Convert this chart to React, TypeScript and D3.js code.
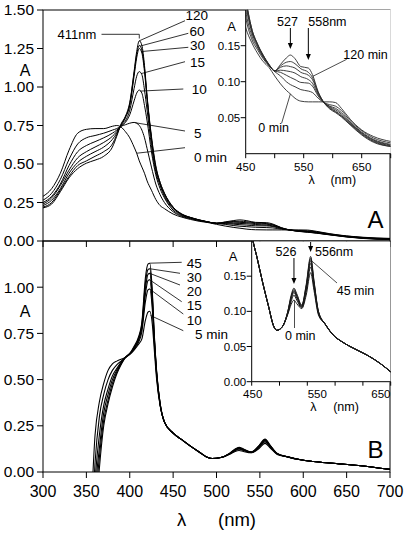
import React from "react";
import * as d3 from "d3";

// ---------------- data ----------------
const TOP_WL = [300,310,320,330,340,350,360,370,380,385,390,395,400,405,408,411,414,417,420,425,430,435,440,450,460,470,480,490,500,510,520,527,535,545,558,565,575,585,595,605,615,630,650,670,700];
const TOP_0MIN = [0.29,0.34,0.44,0.59,0.70,0.725,0.73,0.73,0.745,0.75, 0.74,0.71,0.67,0.61,0.57,0.52,0.48,0.44,0.39,0.33,0.27,0.23,0.21, 0.175,0.155,0.14,0.128,0.12,0.108,0.097,0.088,0.083,0.077,0.073,0.072,0.072,0.072,0.072,0.072,0.071,0.063,0.048,0.033,0.024,0.017];
const TOP_5MIN = [0.265,0.31,0.40,0.53,0.63,0.67,0.685,0.70,0.72,0.73, 0.745,0.755,0.765,0.77,0.765,0.75,0.72,0.67,0.60,0.48,0.37,0.30,0.25, 0.19,0.16,0.145,0.132,0.122,0.114,0.108,0.100,0.096,0.093,0.089,0.087,0.085,0.077,0.071,0.068,0.066,0.060,0.046,0.032,0.022,0.015];
const TOP_10MIN = [0.25,0.29,0.37,0.49,0.58,0.62,0.645,0.67,0.70,0.72, 0.745,0.77,0.82,0.91,0.96,0.98,0.96,0.88,0.78,0.58,0.43,0.34,0.28, 0.20,0.165,0.148,0.134,0.123,0.115,0.113,0.109,0.106,0.103,0.099,0.098,0.094,0.080,0.071,0.066,0.063,0.057,0.044,0.030,0.020,0.013];
const TOP_15MIN = [0.24,0.28,0.36,0.46,0.54,0.58,0.61,0.64,0.68,0.71, 0.75,0.78,0.85,0.99,1.07,1.10,1.08,0.98,0.85,0.62,0.45,0.36,0.29, 0.21,0.17,0.15,0.135,0.123,0.115,0.116,0.115,0.114,0.112,0.107,0.103,0.098,0.082,0.071,0.065,0.061,0.055,0.043,0.029,0.019,0.012];
const TOP_30MIN = [0.23,0.265,0.34,0.44,0.51,0.55,0.58,0.61,0.66,0.70, 0.75,0.80,0.88,1.07,1.19,1.25,1.22,1.10,0.92,0.66,0.47,0.37,0.30, 0.215,0.172,0.152,0.136,0.124,0.115,0.120,0.122,0.121,0.119,0.113,0.109,0.103,0.084,0.071,0.064,0.059,0.053,0.042,0.028,0.018,0.011];
const TOP_60MIN = [0.22,0.25,0.33,0.42,0.49,0.52,0.55,0.58,0.63,0.69, 0.755,0.805,0.89,1.09,1.21,1.27,1.24,1.12,0.93,0.67,0.48,0.38,0.31, 0.22,0.175,0.153,0.137,0.124,0.115,0.122,0.127,0.128,0.125,0.118,0.113,0.106,0.085,0.071,0.063,0.058,0.052,0.041,0.027,0.017,0.010];
const TOP_120MIN = [0.215,0.24,0.32,0.41,0.47,0.505,0.525,0.55,0.61,0.68, 0.76,0.81,0.90,1.10,1.23,1.30,1.27,1.14,0.94,0.68,0.49,0.38,0.31, 0.22,0.175,0.153,0.137,0.124,0.115,0.124,0.133,0.137,0.132,0.121,0.119,0.110,0.086,0.071,0.062,0.057,0.051,0.040,0.026,0.016,0.010];
const TOP_SERIES = [TOP_0MIN, TOP_5MIN, TOP_10MIN, TOP_15MIN, TOP_30MIN, TOP_60MIN, TOP_120MIN];

const BOT_WL = [350,355,360,365,370,375,380,385,390,395,400,405,410,414,418,421,423,426,428,431,435,440,450,460,470,480,490,495,505,515,521,526,531,540,548,556,562,570,582,597,612,627,642,657,681,700];
const BOT_5MIN = [-0.6,-0.25,0.20,0.38,0.48,0.55,0.585,0.60,0.61,0.62, 0.635,0.66,0.69,0.72,0.82,0.865,0.87,0.80,0.68,0.50,0.36,0.27, 0.21,0.175,0.14,0.108,0.078,0.073,0.078,0.096,0.110,0.116,0.111,0.104,0.123,0.155,0.130,0.095,0.082,0.066,0.057,0.050,0.044,0.038,0.026,0.014];
const BOT_10MIN = [-0.8,-0.45,0.05,0.30,0.42,0.50,0.55,0.58,0.60,0.62, 0.64,0.665,0.70,0.76,0.92,0.985,0.99,0.88,0.72,0.52,0.36,0.27, 0.21,0.175,0.14,0.108,0.078,0.073,0.078,0.097,0.114,0.123,0.116,0.105,0.128,0.163,0.135,0.097,0.082,0.066,0.057,0.050,0.044,0.038,0.026,0.014];
const BOT_15MIN = [-0.9,-0.55,-0.05,0.20,0.36,0.45,0.52,0.56,0.595,0.62, 0.64,0.67,0.71,0.78,0.96,1.035,1.04,0.91,0.74,0.53,0.365,0.27, 0.21,0.175,0.14,0.108,0.078,0.073,0.078,0.098,0.117,0.127,0.119,0.106,0.131,0.168,0.138,0.098,0.082,0.066,0.057,0.050,0.044,0.038,0.026,0.014];
const BOT_20MIN = [-1.0,-0.6,-0.12,0.13,0.32,0.42,0.50,0.55,0.59,0.62, 0.64,0.67,0.72,0.79,0.99,1.07,1.075,0.94,0.75,0.535,0.37,0.27, 0.21,0.175,0.14,0.108,0.078,0.073,0.078,0.099,0.119,0.129,0.121,0.107,0.134,0.172,0.140,0.099,0.082,0.066,0.057,0.050,0.044,0.038,0.026,0.014];
const BOT_30MIN = [-1.1,-0.7,-0.2,0.08,0.28,0.39,0.48,0.54,0.585,0.62, 0.64,0.675,0.72,0.80,1.02,1.095,1.10,0.96,0.76,0.54,0.37,0.27, 0.21,0.175,0.14,0.108,0.078,0.073,0.078,0.100,0.121,0.131,0.123,0.108,0.136,0.175,0.142,0.100,0.082,0.066,0.057,0.050,0.044,0.038,0.026,0.014];
const BOT_45MIN = [-1.2,-0.8,-0.3,0.02,0.25,0.37,0.46,0.53,0.58,0.62, 0.64,0.68,0.73,0.81,1.05,1.125,1.13,0.98,0.77,0.545,0.37,0.27, 0.21,0.175,0.14,0.108,0.078,0.073,0.078,0.100,0.123,0.133,0.125,0.109,0.138,0.178,0.144,0.100,0.082,0.066,0.057,0.050,0.044,0.038,0.026,0.014];
const BOT_SERIES = [BOT_5MIN, BOT_10MIN, BOT_15MIN, BOT_20MIN, BOT_30MIN, BOT_45MIN];

const X_TICKS = [300, 350, 400, 450, 500, 550, 600, 650, 700];
const TOP_Y_TICKS = [0, 0.25, 0.5, 0.75, 1.0, 1.25, 1.5];
const BOT_Y_TICKS = [0, 0.25, 0.5, 0.75, 1.0];
const INSET_X_TICKS = [450, 500, 550, 600, 650, 700];
const INSET_X_LABELS = [450, 550, 650];
const INSET_A_Y_TICKS = [0.05, 0.10, 0.15];
const INSET_B_Y_TICKS = [0, 0.05, 0.10, 0.15];

// annotations: [label, series index, anchor wavelength, line end x, line end y, text x, text y]
const TOP_NOTES: [string, number, number, number, number, number, number][] = [
  ["120", 6, 411, 185, 20.7, 185.5, 15.7],
  ["60", 5, 411.5, 188.3, 33.3, 189.5, 31],
  ["30", 4, 413, 188.3, 47.3, 190, 45.7],
  ["15", 3, 413, 185, 61.7, 190, 62],
  ["10", 2, 412, 183.3, 89, 191.7, 89.7],
  ["5", 1, 406, 185, 131, 194, 133],
  ["0 min", 0, 408, 185, 147.7, 194, 157.3],
];
const BOT_NOTES: [string, number, number, number, number, number, number][] = [
  ["45", 5, 423, 181.7, 262.3, 186.7, 263.3],
  ["30", 4, 423, 180, 273.3, 186.7, 277.7],
  ["20", 3, 423, 180, 285, 186.7, 291.7],
  ["15", 2, 423, 181.7, 301.7, 186.7, 305.7],
  ["10", 1, 423, 183.3, 314, 186.7, 320],
  ["5 min", 0, 424, 183.3, 330.7, 195, 334],
];

// ---------------- layout ----------------
const W = 408, H = 536;
const PX0 = 43, PX1 = 390;
const TOP_Y0 = 10, MID_Y = 241, BOT_Y1 = 472;
const FONT = "'Liberation Sans', Arial, Helvetica, sans-serif";

const x = d3.scaleLinear().domain([300, 700]).range([PX0, PX1]);
const yTop = d3.scaleLinear().domain([0, 1.5]).range([MID_Y, TOP_Y0]);
const yBot = d3.scaleLinear().domain([0, 1.25]).range([BOT_Y1, MID_Y]);

const IA = { x0: 245.7, x1: 390.7, y0: 9.7, y1: 153.7 };
const IB = { x0: 251.7, x1: 390.7, y0: 241, y1: 381.7 };
const xIA = d3.scaleLinear().domain([450, 700]).range([IA.x0, IA.x1]);
const yIA = d3.scaleLinear().domain([0, 0.2]).range([IA.y1, IA.y0]);
const xIB = d3.scaleLinear().domain([450, 700]).range([IB.x0, IB.x1]);
const yIB = d3.scaleLinear().domain([0, 0.2]).range([IB.y1, IB.y0]);
const IB_LABEL_SHIFT = [1, 10, 18];

function interp(wl: number[], vals: number[], w: number) {
  const i = Math.max(1, Math.min(wl.length - 1, d3.bisectLeft(wl, w)));
  const t = (w - wl[i - 1]) / (wl[i] - wl[i - 1]);
  return vals[i - 1] + t * (vals[i] - vals[i - 1]);
}

function pathFor(wl: number[], vals: number[], sx: any, sy: any) {
  const pts: [number, number][] = wl.map((w, i) => [w, vals[i]]);
  return d3.line<[number, number]>().x((d) => sx(d[0])).y((d) => sy(d[1])).curve(d3.curveMonotoneX)(pts) || "";
}

const T = ({ x, y, s, a = "start", children }: any) => (
  <text x={x} y={y} fontSize={s} textAnchor={a} dy="0.35em" fontFamily={FONT} fill="#000">
    {children}
  </text>
);

const Arrow = ({ x, y1, y2 }: any) => (
  <g>
    <line x1={x} x2={x} y1={y1} y2={y2 - 5} stroke="#000" strokeWidth={1} />
    <path d={`M${x - 2.5},${y2 - 6} L${x + 2.5},${y2 - 6} L${x},${y2} Z`} fill="#000" />
  </g>
);

export default function App() {
  const fmt2 = d3.format(".2f");
  return (
    <svg width={W} height={H} style={{ position: "absolute", left: 0, top: 0, background: "#fff" }}>
      <defs>
        <clipPath id="cTop"><rect x={PX0} y={TOP_Y0} width={PX1 - PX0} height={MID_Y - TOP_Y0} /></clipPath>
        <clipPath id="cBot"><rect x={PX0} y={MID_Y} width={PX1 - PX0} height={BOT_Y1 - MID_Y} /></clipPath>
        <clipPath id="cIA"><rect x={IA.x0} y={IA.y0} width={IA.x1 - IA.x0} height={IA.y1 - IA.y0} /></clipPath>
        <clipPath id="cIB"><rect x={IB.x0} y={IB.y0} width={IB.x1 - IB.x0} height={IB.y1 - IB.y0} /></clipPath>
      </defs>
      <rect x={0} y={0} width={W} height={H} fill="#fff" />

      {/* main curves */}
      <g clipPath="url(#cTop)" fill="none" stroke="#000" strokeWidth={1}>
        {TOP_SERIES.map((s, i) => <path key={i} d={pathFor(TOP_WL, s, x, yTop)} />)}
      </g>
      <g clipPath="url(#cBot)" fill="none" stroke="#000" strokeWidth={1.1}>
        {BOT_SERIES.map((s, i) => <path key={i} d={pathFor(BOT_WL, s, x, yBot)} />)}
      </g>

      {/* frames */}
      <rect x={PX0} y={TOP_Y0} width={PX1 - PX0} height={MID_Y - TOP_Y0} fill="none" stroke="#000" strokeWidth={1} />
      <rect x={PX0} y={MID_Y} width={PX1 - PX0} height={BOT_Y1 - MID_Y} fill="none" stroke="#000" strokeWidth={1} />

      {/* main ticks */}
      {X_TICKS.map((v) => (
        <g key={"xt" + v}>
          <line x1={x(v)} x2={x(v)} y1={MID_Y} y2={MID_Y + 6} stroke="#000" />
          <line x1={x(v)} x2={x(v)} y1={BOT_Y1} y2={BOT_Y1 + 6} stroke="#000" />
          <T x={x(v)} y={491} s={16} a="middle">{v}</T>
        </g>
      ))}
      {TOP_Y_TICKS.map((v) => (
        <g key={"yt" + v}>
          <line x1={PX0 - 6} x2={PX0} y1={yTop(v)} y2={yTop(v)} stroke="#000" />
          <T x={34} y={yTop(v)} s={15.5} a="end">{fmt2(v)}</T>
        </g>
      ))}
      {BOT_Y_TICKS.map((v) => (
        <g key={"yb" + v}>
          <line x1={PX0 - 6} x2={PX0} y1={yBot(v)} y2={yBot(v)} stroke="#000" />
          <T x={34} y={yBot(v)} s={15.5} a="end">{fmt2(v)}</T>
        </g>
      ))}

      {/* axis titles */}
      <T x={25} y={70} s={16} a="middle">A</T>
      <T x={25} y={311.7} s={16} a="middle">A</T>
      <T x={181.7} y={520} s={18.5} a="middle">λ</T>
      <T x={237} y={520} s={18.5} a="middle">(nm)</T>
      <T x={375.5} y={220} s={24} a="middle">A</T>
      <T x={375.5} y={450} s={24} a="middle">B</T>

      {/* top annotations */}
      <g stroke="#000" strokeWidth={0.8} fill="none">
        <polyline points={`101.5,34.3 ${x(411)},34.3 ${x(411)},38.5`} />
        {TOP_NOTES.map(([lab, si, w, lx, ly]) => (
          <line key={"tn" + lab} x1={x(w)} y1={yTop(interp(TOP_WL, TOP_SERIES[si], w))} x2={lx} y2={ly} />
        ))}
        {BOT_NOTES.map(([lab, si, w, lx, ly]) => (
          <line key={"bn" + lab} x1={x(w)} y1={yBot(interp(BOT_WL, BOT_SERIES[si], w))} x2={lx} y2={ly} />
        ))}
      </g>
      <T x={77} y={34.3} s={13} a="middle">411nm</T>
      {TOP_NOTES.map(([lab, , , , , tx, ty]) => (
        <T key={"tt" + lab} x={tx} y={ty} s={13.5}>{lab}</T>
      ))}
      {BOT_NOTES.map(([lab, , , , , tx, ty]) => (
        <T key={"bt" + lab} x={tx} y={ty} s={13.5}>{lab}</T>
      ))}

      {/* inset A */}
      <rect x={IA.x0} y={IA.y0} width={IA.x1 - IA.x0} height={IA.y1 - IA.y0} fill="#fff" />
      <g clipPath="url(#cIA)" fill="none" stroke="#2a2a2a" strokeWidth={0.9}>
        {TOP_SERIES.map((s, i) => <path key={i} d={pathFor(TOP_WL, s, xIA, yIA)} />)}
      </g>
      <line x1={IA.x0} x2={IA.x0} y1={TOP_Y0} y2={IA.y1} stroke="#000" />
      <line x1={IA.x0} x2={IA.x1} y1={IA.y1} y2={IA.y1} stroke="#000" />
      {INSET_X_TICKS.map((v) => (
        <line key={"iax" + v} x1={xIA(v)} x2={xIA(v)} y1={IA.y1} y2={IA.y1 + 4.5} stroke="#000" />
      ))}
      {INSET_X_LABELS.map((v) => (
        <T key={"iaxl" + v} x={xIA(v)} y={166.7} s={11.5} a="middle">{v}</T>
      ))}
      {INSET_A_Y_TICKS.map((v) => (
        <g key={"iay" + v}>
          <line x1={IA.x0 - 5} x2={IA.x0} y1={yIA(v)} y2={yIA(v)} stroke="#000" />
          <T x={IA.x0 - 5.5} y={yIA(v)} s={11.5} a="end">{fmt2(v)}</T>
        </g>
      ))}
      <T x={231.7} y={26.7} s={13} a="middle">A</T>
      <T x={311.7} y={180} s={12.5} a="middle">λ</T>
      <T x={343.3} y={180} s={12.5} a="middle">(nm)</T>
      <T x={287.5} y={21.7} s={12.5} a="middle">527</T>
      <T x={308.3} y={21.7} s={12.5}>558nm</T>
      <Arrow x={xIA(527)} y1={28} y2={49} />
      <Arrow x={xIA(558)} y1={28} y2={60} />
      <g stroke="#000" strokeWidth={0.7}>
        <line x1={xIA(566)} y1={yIA(interp(TOP_WL, TOP_120MIN, 566))} x2={346.7} y2={59.3} />
        <line x1={xIA(527)} y1={yIA(interp(TOP_WL, TOP_0MIN, 527))} x2={281.7} y2={123} />
      </g>
      <T x={343.3} y={55} s={12.5}>120 min</T>
      <T x={258.3} y={128} s={12.5}>0 min</T>

      {/* inset B */}
      <rect x={IB.x0} y={IB.y0 + 0.5} width={IB.x1 - IB.x0 - 0.5} height={IB.y1 - IB.y0} fill="#fff" />
      <g clipPath="url(#cIB)" fill="none" stroke="#1a1a1a" strokeWidth={1}>
        {BOT_SERIES.map((s, i) => <path key={i} d={pathFor(BOT_WL, s, xIB, yIB)} />)}
      </g>
      <line x1={IB.x0} x2={IB.x0} y1={IB.y0} y2={IB.y1} stroke="#000" />
      <line x1={IB.x0} x2={IB.x1} y1={IB.y1} y2={IB.y1} stroke="#000" />
      {INSET_X_TICKS.map((v) => (
        <line key={"ibx" + v} x1={xIB(v)} x2={xIB(v)} y1={IB.y1} y2={IB.y1 + 4} stroke="#000" />
      ))}
      {INSET_X_LABELS.map((v, i) => (
        <T key={"ibxl" + v} x={xIB(v) + IB_LABEL_SHIFT[i]} y={394} s={11.5} a="middle">{v}</T>
      ))}
      {INSET_B_Y_TICKS.map((v) => (
        <g key={"iby" + v}>
          <line x1={IB.x0 - 5} x2={IB.x0} y1={yIB(v)} y2={yIB(v)} stroke="#000" />
          <T x={IB.x0 - 5.5} y={yIB(v)} s={11.5} a="end">{fmt2(v)}</T>
        </g>
      ))}
      <T x={233} y={256.7} s={13} a="middle">A</T>
      <T x={313.3} y={406.7} s={12.5} a="middle">λ</T>
      <T x={346} y={406.7} s={12.5} a="middle">(nm)</T>
      <T x={286} y={251.7} s={12.5} a="middle">526</T>
      <T x={315} y={251.7} s={12.5}>556nm</T>
      <Arrow x={xIB(526)} y1={258} y2={284} />
      <Arrow x={xIB(556)} y1={242} y2={252} />
      <g stroke="#000" strokeWidth={0.7}>
        <line x1={xIB(557)} y1={yIB(interp(BOT_WL, BOT_45MIN, 557))} x2={337} y2={283} />
        <line x1={xIB(527)} y1={yIB(interp(BOT_WL, BOT_5MIN, 527))} x2={xIB(527)} y2={328} />
      </g>
      <T x={336.7} y={290.7} s={12.5}>45 min</T>
      <T x={285} y={336} s={12.5}>0 min</T>
    </svg>
  );
}
